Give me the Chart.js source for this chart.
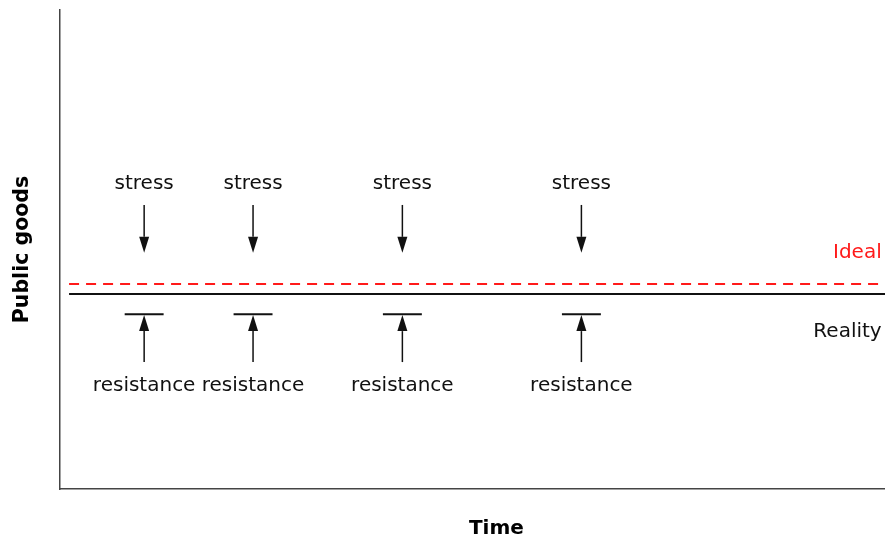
<!DOCTYPE html>
<html>
<head>
<meta charset="utf-8">
<script src="https://cdn.jsdelivr.net/npm/chart.js@4"></script>
<style>
  html, body { margin: 0; padding: 0; background: #fff; }
  #wrap { width: 885px; height: 544px; position: relative; }
</style>
</head>
<body>
<div id="wrap"><canvas id="chart"></canvas></div>
<script>
/*** data ***/
const stressTimes = [10.2, 23.4, 41.5, 63.2];
const stressLabels = ['stress', 'stress', 'stress', 'stress'];
const resistanceLabels = ['resistance', 'resistance', 'resistance', 'resistance'];
const lineStart = 1.1;
const lineEnd = 100;
const idealLevel = 42.8;
const realityLevel = 40.7;
const resistanceLevel = 36.5;
const seriesNames = ['Ideal', 'Reality'];
const xTitle = 'Time';
const yTitle = 'Public goods';

/*** drawing helpers ***/
const FONT = '"DejaVu Sans", Verdana, sans-serif';
const INK = '#111';
const RED = '#ff1a1a';

// sizes in data units (converted by the scales)
const barHalf = 2.36;
const stressTextY = 63.7;
const stressArrowTop = 59.3;
const stressArrowTip = 49.3;
const resistArrowBottom = 26.5;
const resistArrowTip = 36.3;
const resistTextY = 21.5;

function arrow(ctx, x, y0, y1) {
  const dir = y1 > y0 ? 1 : -1;
  const headLen = 16;
  const headHalf = 5;
  ctx.beginPath();
  ctx.moveTo(x, y0);
  ctx.lineTo(x, y1 - dir * headLen);
  ctx.stroke();
  ctx.beginPath();
  ctx.moveTo(x, y1);
  ctx.lineTo(x - headHalf, y1 - dir * headLen);
  ctx.lineTo(x + headHalf, y1 - dir * headLen);
  ctx.closePath();
  ctx.fill();
}

const annotations = {
  id: 'annotations',
  afterDatasetsDraw(chart) {
    const { ctx, scales: { x, y } } = chart;
    ctx.save();
    ctx.strokeStyle = INK;
    ctx.fillStyle = INK;
    ctx.lineWidth = 1.5;
    ctx.font = '20px ' + FONT;
    ctx.textAlign = 'center';
    ctx.textBaseline = 'middle';

    stressTimes.forEach((t, i) => {
      const px = x.getPixelForValue(t);
      ctx.fillStyle = INK;
      ctx.fillText(stressLabels[i], px, y.getPixelForValue(stressTextY));
      arrow(ctx, px, y.getPixelForValue(stressArrowTop), y.getPixelForValue(stressArrowTip));
      arrow(ctx, px, y.getPixelForValue(resistArrowBottom), y.getPixelForValue(resistArrowTip));
      ctx.fillText(resistanceLabels[i], px, y.getPixelForValue(resistTextY));
    });

    // series labels at the right
    ctx.textAlign = 'right';
    ctx.fillStyle = RED;
    ctx.fillText(seriesNames[0], x.getPixelForValue(99.6), y.getPixelForValue(49.3));
    ctx.fillStyle = INK;
    ctx.fillText(seriesNames[1], x.getPixelForValue(99.6), y.getPixelForValue(32.8));

    // x axis title (sits a little right of centre in the original)
    ctx.textAlign = 'center';
    ctx.fillStyle = '#000';
    ctx.font = 'bold 20px ' + FONT;
    ctx.fillText(xTitle, x.getPixelForValue(52.9), 529);
    ctx.restore();
  },
};

// T-bars above each resistance arrow
const barDatasets = stressTimes.map((t) => ({
  data: [
    { x: t - barHalf, y: resistanceLevel },
    { x: t + barHalf, y: resistanceLevel },
  ],
  showLine: true,
  borderColor: INK,
  borderWidth: 2,
  pointRadius: 0,
}));

new Chart(document.getElementById('chart'), {
  type: 'scatter',
  data: {
    datasets: [
      {
        label: seriesNames[0],
        data: [
          { x: lineStart, y: idealLevel },
          { x: lineEnd, y: idealLevel },
        ],
        showLine: true,
        borderColor: RED,
        borderWidth: 2,
        borderDash: [10, 7],
        pointRadius: 0,
      },
      {
        label: seriesNames[1],
        data: [
          { x: lineStart, y: realityLevel },
          { x: lineEnd, y: realityLevel },
        ],
        showLine: true,
        borderColor: INK,
        borderWidth: 2,
        pointRadius: 0,
      },
      ...barDatasets,
    ],
  },
  plugins: [annotations],
  options: {
    responsive: true,
    maintainAspectRatio: false,
    animation: false,
    layout: { padding: { top: 10, right: 0, bottom: 55, left: 0 } },
    plugins: {
      legend: { display: false },
      tooltip: { enabled: false },
    },
    scales: {
      x: {
        type: 'linear',
        min: 0,
        max: 100,
        ticks: { display: false },
        grid: { display: false, drawTicks: false },
        border: { display: true, color: '#444', width: 1.5 },
        title: { display: false, text: xTitle },
      },
      y: {
        type: 'linear',
        min: 0,
        max: 100,
        ticks: { display: false },
        grid: { display: false, drawTicks: false },
        border: { display: true, color: '#444', width: 1.5 },
        title: {
          display: true,
          text: yTitle,
          color: '#000',
          font: { family: FONT, size: 20.5, weight: 'bold' },
          padding: { top: 10, bottom: 25.4 },
        },
      },
    },
  },
});
</script>
</body>
</html>
